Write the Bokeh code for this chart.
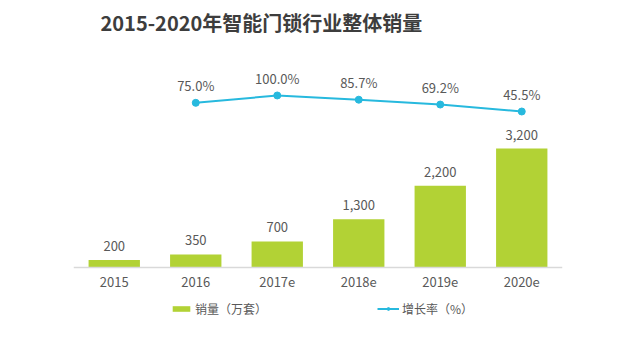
from bokeh.plotting import figure
from bokeh.models import (ColumnDataSource, Range1d, LinearAxis, Legend, LegendItem,
                          Label, FactorRange)
from bokeh.core.properties import value
from bokeh.embed import file_html
from bokeh.resources import INLINE

title_text = "2015-2020年智能门锁行业整体销量"
years = ["2015", "2016", "2017e", "2018e", "2019e", "2020e"]
sales = [200, 350, 700, 1300, 2200, 3200]
sales_labels = ["200", "350", "700", "1,300", "2,200", "3,200"]
growth_years = ["2016", "2017e", "2018e", "2019e", "2020e"]
growth = [75.0, 100.0, 85.7, 69.2, 45.5]
growth_labels = ["75.0%", "100.0%", "85.7%", "69.2%", "45.5%"]

FONT = "Noto Sans CJK SC"
TXT = "#595959"
GREEN = "#b2d235"
BLUE = "#27b9de"

bar_src = ColumnDataSource(dict(x=years, y=sales, lab=sales_labels))
line_src = ColumnDataSource(dict(x=growth_years, y=growth, lab=growth_labels))

p = figure(width=640, height=342, x_range=FactorRange(*years, range_padding=0),
           y_range=Range1d(-2017, 7180), output_backend="svg", toolbar_location=None,
           min_border_left=73, min_border_right=78, min_border_top=0,
           min_border_bottom=0, outline_line_color=None,
           background_fill_color="white", border_fill_color="white")
p.extra_y_ranges = {"pct": Range1d(-740, 423)}

p.add_layout(Label(x=27, y=320, x_units="screen", y_units="screen", text=title_text,
                   text_font=FONT, text_font_size="20px", text_font_style="bold",
                   text_color="#3d3d3d", text_baseline="middle", text_align="left"))

bars = p.vbar(x="x", top="y", width=0.63, source=bar_src, fill_color=GREEN,
              line_color=None)
p.text(x="x", y="y", text="lab", source=bar_src, text_align="center",
       text_baseline="middle", y_offset=-14, text_font=value(FONT),
       text_font_size="13px", text_color=TXT)

ln = p.line(x="x", y="y", source=line_src, y_range_name="pct", line_color=BLUE,
            line_width=2)
sc = p.scatter(x="x", y="y", source=line_src, y_range_name="pct", size=7,
               fill_color=BLUE, line_color=BLUE)
p.text(x="x", y="y", text="lab", source=line_src, y_range_name="pct",
       text_align="center", text_baseline="middle", y_offset=-17,
       text_font=value(FONT), text_font_size="13px", text_color=TXT)

p.yaxis.visible = False
p.add_layout(LinearAxis(y_range_name="pct", visible=False), "right")
p.xgrid.visible = False
p.ygrid.visible = False

ax = p.xaxis[0]
ax.fixed_location = 0
ax.axis_line_color = "#d9d9d9"
ax.axis_line_width = 1.5
ax.major_tick_line_color = None
ax.minor_tick_line_color = None
ax.major_label_text_font = FONT
ax.major_label_text_font_size = "13px"
ax.major_label_text_color = TXT
ax.major_label_standoff = 4

legend = Legend(items=[LegendItem(label="销量（万套）", renderers=[bars]),
                       LegendItem(label="增长率（%）", renderers=[ln, sc])],
                orientation="horizontal", location=(95, 23), spacing=110,
                border_line_alpha=0, background_fill_alpha=0,
                label_text_font=FONT, label_text_font_size="12px",
                label_text_color=TXT, glyph_width=22, glyph_height=7,
                label_standoff=3, padding=2, margin=0)
p.add_layout(legend, "center")

open("out.html", "w").write(file_html(p, INLINE))
